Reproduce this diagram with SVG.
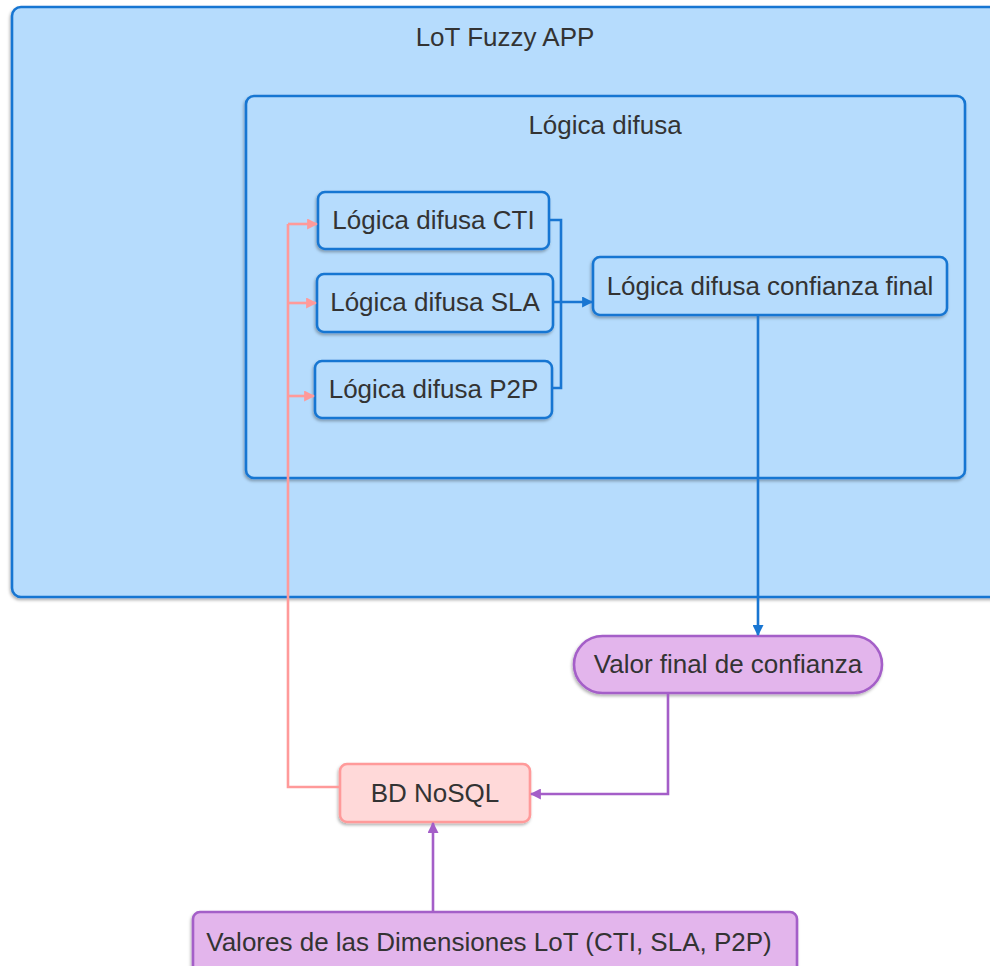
<svg xmlns="http://www.w3.org/2000/svg" width="990" height="966" viewBox="0 0 990 966">
  <style>
    text { font-family: "Liberation Sans", Arial, sans-serif; font-size: 26px; fill: #333333; text-anchor: middle; }
    .blue { fill: #b6dcfd; stroke: #1976d2; stroke-width: 2.6; }
    .pink { fill: #ffd9d9; stroke: #ff9a9a; stroke-width: 2.6; }
    .purple { fill: #e3b5ec; stroke: #a45ec8; stroke-width: 2.6; }
    .c-blue { fill: none; stroke: #1976d2; stroke-width: 2.6; }
    .c-pink { fill: none; stroke: #ff9a9a; stroke-width: 2.6; }
    .c-purple { fill: none; stroke: #a45ec8; stroke-width: 2.6; }
  </style>
  <defs>
    <filter id="shadow" x="-10%" y="-10%" width="120%" height="130%">
      <feDropShadow dx="-1" dy="2" stdDeviation="1.6" flood-color="#000" flood-opacity="0.3"/>
    </filter>
    <marker id="arrow-blue" viewBox="0 0 10 10" refX="9" refY="5" markerWidth="11" markerHeight="11" markerUnits="userSpaceOnUse" orient="auto">
      <path d="M0,0 L10,5 L0,10 z" fill="#1976d2"/>
    </marker>
    <marker id="arrow-pink" viewBox="0 0 10 10" refX="9" refY="5" markerWidth="11" markerHeight="11" markerUnits="userSpaceOnUse" orient="auto">
      <path d="M0,0 L10,5 L0,10 z" fill="#ff9a9a"/>
    </marker>
    <marker id="arrow-purple" viewBox="0 0 10 10" refX="9" refY="5" markerWidth="11" markerHeight="11" markerUnits="userSpaceOnUse" orient="auto">
      <path d="M0,0 L10,5 L0,10 z" fill="#a45ec8"/>
    </marker>
  </defs>

  <rect width="990" height="966" fill="#ffffff"/>

  <!-- container: application -->
  <g id="app">
    <rect class="blue" x="12" y="7" width="990" height="590" rx="9" filter="url(#shadow)"/>
    <text x="505" y="46">LoT Fuzzy APP</text>
  </g>

  <!-- container: fuzzy logic -->
  <g id="fuzzy">
    <rect class="blue" x="246" y="96" width="719" height="382" rx="8" filter="url(#shadow)"/>
    <text x="605" y="134">Lógica difusa</text>
  </g>

  <g id="cti">
    <rect class="blue" x="318" y="192" width="231" height="57" rx="7" filter="url(#shadow)"/>
    <text x="433.5" y="229">Lógica difusa CTI</text>
  </g>

  <g id="sla">
    <rect class="blue" x="317" y="274" width="236" height="58" rx="7" filter="url(#shadow)"/>
    <text x="435" y="311">Lógica difusa SLA</text>
  </g>

  <g id="p2p">
    <rect class="blue" x="315" y="361" width="237" height="57" rx="7" filter="url(#shadow)"/>
    <text x="433.5" y="398">Lógica difusa P2P</text>
  </g>

  <g id="final">
    <rect class="blue" x="593" y="257" width="354" height="58" rx="7" filter="url(#shadow)"/>
    <text x="770" y="295">Lógica difusa confianza final</text>
  </g>

  <g id="valor">
    <rect class="purple" x="574" y="636" width="308" height="57" rx="28.5" filter="url(#shadow)"/>
    <text x="728" y="673">Valor final de confianza</text>
  </g>

  <g id="nosql">
    <rect class="pink" x="340" y="764" width="190" height="58" rx="7" filter="url(#shadow)"/>
    <text x="435" y="802">BD NoSQL</text>
  </g>

  <g id="dims">
    <rect class="purple" x="193" y="912" width="604" height="70" rx="7" filter="url(#shadow)"/>
    <text x="489" y="951">Valores de las Dimensiones LoT (CTI, SLA, P2P)</text>
  </g>

  <!-- connectors -->
  <g id="connectors">
    <!-- CTI / SLA / P2P merge into final score -->
    <path class="c-blue" d="M549,220 H561 V388 H552"/>
    <path class="c-blue" d="M553,302 H592" marker-end="url(#arrow-blue)"/>
    <!-- final score down to result -->
    <path class="c-blue" d="M758,315 V635" marker-end="url(#arrow-blue)"/>
    <!-- result stored in database -->
    <path class="c-purple" d="M668,693 V794 H531" marker-end="url(#arrow-purple)"/>
    <!-- dimension values into database -->
    <path class="c-purple" d="M433,912 V823" marker-end="url(#arrow-purple)"/>
    <!-- database feeds the three fuzzy modules -->
    <path class="c-pink" d="M340,787 H288 V224"/>
    <path class="c-pink" d="M288,224 H317" marker-end="url(#arrow-pink)"/>
    <path class="c-pink" d="M288,303 H316" marker-end="url(#arrow-pink)"/>
    <path class="c-pink" d="M288,396 H314" marker-end="url(#arrow-pink)"/>
  </g>
</svg>
